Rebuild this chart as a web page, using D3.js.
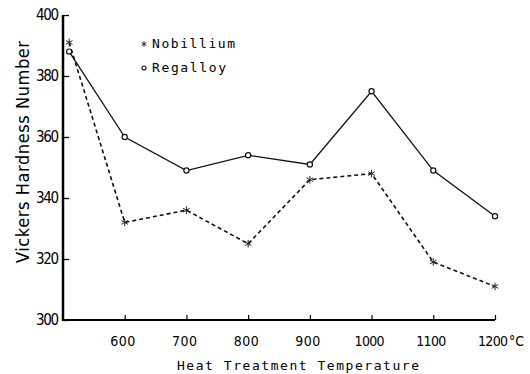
<!DOCTYPE html>
<html>
<head>
<meta charset="utf-8">
<script src="https://cdn.jsdelivr.net/npm/d3@7"></script>
<style>
  body { margin: 0; background: #fff; }
  svg { display: block; }
  .mono { font-family: "DejaVu Sans Mono", "Liberation Mono", monospace; }
  .narrow { font-family: "DejaVu Sans", "Liberation Sans", sans-serif; font-stretch: condensed; }
</style>
</head>
<body>
<div id="chart"></div>
<script>
// temperatures (°C) and hardness readings
const temps = [510, 600, 700, 800, 900, 1000, 1100, 1200];
const nobillium = [391, 332, 336, 325, 346, 348, 319, 311];
const regalloy = [388, 360, 349, 354, 351, 375, 349, 334];
const xTicks = [600, 700, 800, 900, 1000, 1100, 1200];
const yTicks = [300, 320, 340, 360, 380, 400];

const width = 530, height = 374;

const svg = d3.select('#chart')
  .append('svg')
  .attr('width', width)
  .attr('height', height);

const x = d3.scaleLinear().domain([500, 1200]).range([63, 495]);
const y = d3.scaleLinear().domain([300, 400]).range([320, 15]);

// y axis (ticks point inward)
const yAxis = svg.append('g')
  .attr('transform', 'translate(' + x(500) + ',0)')
  .call(d3.axisRight(y).tickValues(yTicks).tickSize(6).tickFormat(''));
yAxis.select('.domain').attr('stroke-width', 2.5).attr('d', 'M0,' + y(400) + 'V' + (y(300) + 1));
yAxis.selectAll('.tick line').attr('stroke-width', 1.3);

svg.append('g').selectAll('text')
  .data(yTicks)
  .enter()
  .append('text')
  .attr('class', 'narrow')
  .attr('x', x(500) - 4)
  .attr('y', d => y(d) + 5)
  .attr('text-anchor', 'end')
  .style('font-size', '15px')
  .attr('textLength', 23)
  .text(d => d);

// x axis
const xAxis = svg.append('g')
  .attr('transform', 'translate(0,' + y(300) + ')')
  .call(d3.axisTop(x).tickValues(xTicks).tickSize(5).tickFormat(''));
xAxis.select('.domain').attr('stroke-width', 2.2).attr('d', 'M' + (x(500) - 1) + ',0H' + x(1200));
xAxis.selectAll('.tick line').attr('stroke-width', 1.2);

svg.append('g').selectAll('text')
  .data(xTicks)
  .enter()
  .append('text')
  .attr('class', 'narrow')
  .attr('x', d => x(d) - 2)
  .attr('y', y(300) + 26)
  .attr('text-anchor', 'middle')
  .style('font-size', '14px')
  .attr('textLength', d => d >= 1000 ? 30 : 25)
  .text(d => d);

svg.append('text')
  .attr('class', 'narrow')
  .attr('x', x(1200) + 14)
  .attr('y', y(300) + 26)
  .style('font-size', '14px')
  .text('°C');

// axis titles
svg.append('text')
  .attr('class', 'mono')
  .attr('x', 298)
  .attr('y', 370)
  .attr('text-anchor', 'middle')
  .style('font-size', '13px')
  .attr('textLength', 242)
  .text('Heat Treatment Temperature');

svg.append('text')
  .attr('class', 'narrow')
  .attr('transform', 'translate(29,152) rotate(-90)')
  .attr('text-anchor', 'middle')
  .style('font-size', '18px')
  .attr('textLength', 222)
  .text('Vickers Hardness Number');

// lines
const line = d3.line()
  .x(d => x(d[0]))
  .y(d => y(d[1]));

svg.append('path')
  .datum(d3.zip(temps, nobillium))
  .attr('fill', 'none')
  .attr('stroke', '#111')
  .attr('stroke-width', 1.6)
  .attr('stroke-dasharray', '4,3')
  .attr('d', line);

svg.append('path')
  .datum(d3.zip(temps, regalloy))
  .attr('fill', 'none')
  .attr('stroke', '#111')
  .attr('stroke-width', 1.3)
  .attr('d', line);

// markers
svg.selectAll('.star')
  .data(d3.zip(temps, nobillium))
  .enter()
  .append('path')
  .attr('class', 'star')
  .attr('transform', d => 'translate(' + x(d[0]) + ',' + y(d[1]) + ')')
  .attr('d', d3.symbol(d3.symbolAsterisk, 40))
  .attr('fill', 'none')
  .attr('stroke', '#222')
  .attr('stroke-width', 1);

svg.selectAll('.ring')
  .data(d3.zip(temps, regalloy))
  .enter()
  .append('circle')
  .attr('class', 'ring')
  .attr('cx', d => x(d[0]))
  .attr('cy', d => y(d[1]))
  .attr('r', 2.6)
  .attr('fill', '#fff')
  .attr('stroke', '#111')
  .attr('stroke-width', 1.2);

// legend
const legend = svg.append('g').attr('transform', 'translate(140,48)');
legend.append('path')
  .attr('transform', 'translate(4,-4)')
  .attr('d', d3.symbol(d3.symbolAsterisk, 22))
  .attr('fill', 'none')
  .attr('stroke', '#222')
  .attr('stroke-width', 0.9);
legend.append('text')
  .attr('class', 'mono')
  .attr('x', 12)
  .attr('y', 0)
  .style('font-size', '13px')
  .attr('textLength', 83)
  .text('Nobillium');
legend.append('circle')
  .attr('cx', 4)
  .attr('cy', 20)
  .attr('r', 2)
  .attr('fill', '#fff')
  .attr('stroke', '#111')
  .attr('stroke-width', 1.1);
legend.append('text')
  .attr('class', 'mono')
  .attr('x', 12)
  .attr('y', 24)
  .style('font-size', '13px')
  .attr('textLength', 74)
  .text('Regalloy');
</script>
</body>
</html>
